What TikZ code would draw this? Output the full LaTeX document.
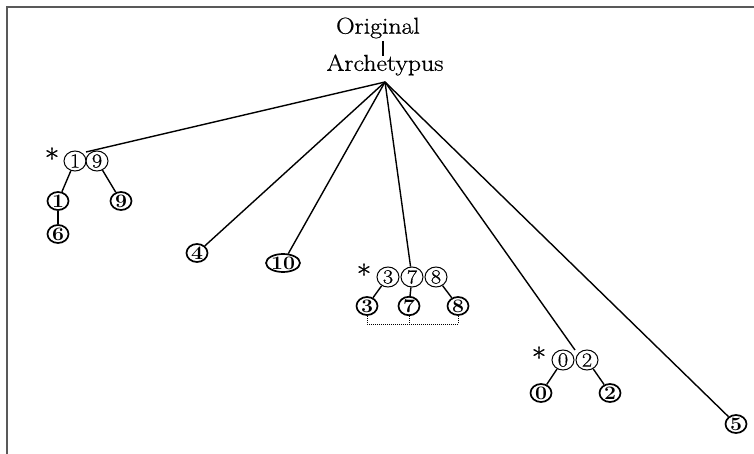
\documentclass[tikz,border=0pt]{standalone}
\usepackage{fontspec}
\setmainfont{Latin Modern Roman}[FakeStretch=1.12]
\usetikzlibrary{shapes.geometric}
\begin{document}
\begin{tikzpicture}[x=1pt,y=-1pt,
  lbl/.style={font=\fontsize{23}{25}\selectfont\addfontfeature{FakeBold=0.8}, inner sep=0pt},
  sm/.style={ellipse, draw, line width=1pt, minimum width=22pt, minimum height=20pt, inner sep=0pt, font=\fontsize{20}{20}\selectfont\addfontfeature{FakeBold=0.5}},
  bd/.style={ellipse, draw, line width=1.7pt, minimum width=21pt, minimum height=18pt, inner sep=0pt, font=\bfseries\fontsize{19}{19}\selectfont},
  ast/.style={font=\fontsize{28}{28}\selectfont\addfontfeature{FakeBold=1}, inner sep=0pt},
  edge/.style={line width=1.4pt},
  brk/.style={densely dotted, line width=1pt}]
\useasboundingbox (0,0) rectangle (754,454);
\draw[line width=1.2pt, gray!70!black] (7,454) -- (7,7) -- (754,7);
% top
\node[lbl] (orig) at (378,28) {Original};
\node[lbl] (arch) at (385,65) {Archetypus};
\draw[edge] (383,41) -- (383,56);
\coordinate (apex) at (385,82);
% group 1
\node[ast] (s1) at (52,158) {*};
\node[sm] (a1) at (75,161) {1};
\node[sm] (a9) at (97,161) {9};
\coordinate (g1) at (86,152);
\node[bd] (b1) at (58,201) {1};
\node[bd] (b9) at (121,201) {9};
\node[bd] (b6) at (58,234) {6};
\draw[edge] (a1) -- (b1);
\draw[edge] (a9) -- (b9);
\draw[edge] (b1) -- (b6);
% singles
\node[bd] (n4) at (197,253) {4};
\node[bd, minimum width=28pt] (n10) at (283,263) {10};
% group 3
\node[ast] (s3) at (364,274) {*};
\node[sm] (c3) at (388,277) {3};
\node[sm] (c7) at (412,277) {7};
\node[sm] (c8) at (436,277) {8};
\node[bd] (d3) at (367,306) {3};
\node[bd] (d7) at (409,306) {7};
\node[bd] (d8) at (458,306) {8};
\draw[edge] (c3) -- (d3);
\draw[edge] (c7) -- (d7);
\draw[edge] (c8) -- (d8);
\coordinate (k3) at (367,324);
\coordinate (k8) at (458,324);
\coordinate (k7) at (409,324);
\draw[brk] (d3.south) -- (k3) -- (k8) -- (d8.south);
\draw[brk] (d7.south) -- (k7);
% group 4
\node[ast] (s4) at (539,357) {*};
\node[sm] (e0) at (563,360) {0};
\node[sm] (e2) at (587,360) {2};
\coordinate (g4) at (575,350);
\node[bd] (f0) at (541,393) {0};
\node[bd] (f2) at (610,393) {2};
\draw[edge] (e0) -- (f0);
\draw[edge] (e2) -- (f2);
% 5
\node[bd] (n5) at (736,424) {5};
% fan
\draw[edge] (apex) -- (g1);
\draw[edge] (apex) -- (n4);
\draw[edge] (apex) -- (n10);
\draw[edge] (apex) -- (c7);
\draw[edge] (apex) -- (g4);
\draw[edge] (apex) -- (n5);
\end{tikzpicture}
\end{document}
